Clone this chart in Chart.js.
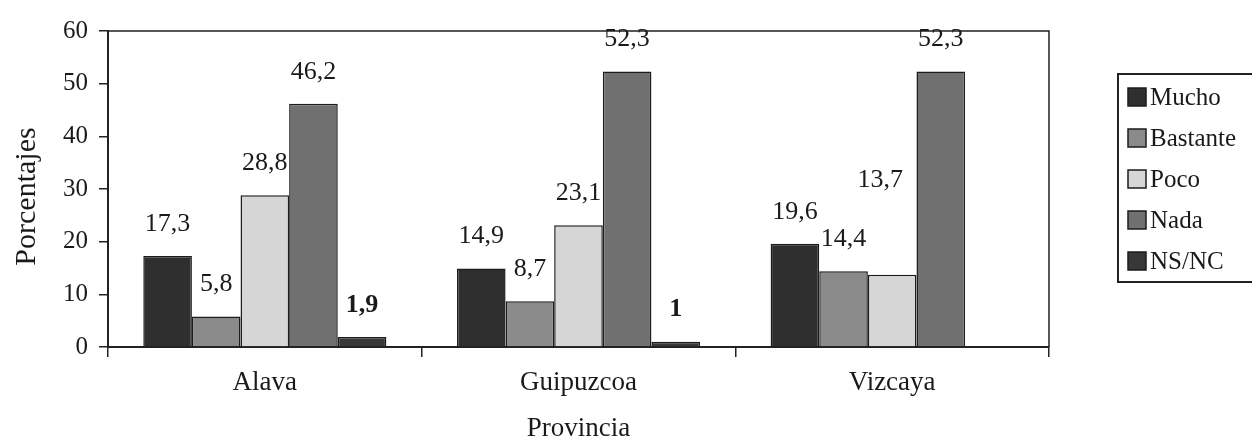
<!DOCTYPE html>
<html>
<head>
<meta charset="utf-8">
<script src="https://cdn.jsdelivr.net/npm/chart.js@4.4.1/dist/chart.umd.min.js"></script>
<style>
  html, body { margin: 0; padding: 0; background: #fff; }
  #wrap { width: 1252px; height: 440px; }
</style>
</head>
<body>
<div id="wrap"><canvas id="chart" width="1252" height="440"></canvas></div>
<script>
/* ---------- DATA ---------- */
const provincias = ["Alava", "Guipuzcoa", "Vizcaya"];
const seriesNames = ["Mucho", "Bastante", "Poco", "Nada", "NS/NC"];
const mucho = [17.3, 14.9, 19.6];
const bastante = [5.8, 8.7, 14.4];
const poco = [28.8, 23.1, 13.7];
const nada = [46.2, 52.3, 52.3];
const nsnc = [1.9, 1, null];
const yTicks = [0, 10, 20, 30, 40, 50, 60];

/* ---------- STYLE ---------- */
const FONT = "'Liberation Serif', 'DejaVu Serif', serif";
const barColors = ["#2f2f2f", "#8a8a8a", "#d6d6d6", "#707070", "#383838"];
const allSeries = [mucho, bastante, poco, nada, nsnc];

// label nudges (dataset-index, point-index) -> px
const labelNudge = { "2-2": { dx: -12, dy: -63 } };

const datasets = allSeries.map((values, i) => ({
  label: seriesNames[i],
  data: values,
  backgroundColor: barColors[i],
  borderColor: "#1c1c1c",
  borderWidth: 1.5,
  barPercentage: 1,
  categoryPercentage: 0.775,
}));

/* ---------- PLUGINS ---------- */
const frame = {
  id: "frame",
  beforeDatasetsDraw(chart) {
    const { ctx, chartArea: a } = chart;
    ctx.save();
    ctx.strokeStyle = "#222";
    ctx.lineWidth = 1.5;
    ctx.beginPath();
    ctx.moveTo(a.left, a.top);
    ctx.lineTo(a.right, a.top);
    ctx.lineTo(a.right, a.bottom);
    ctx.stroke();
    ctx.restore();
  },
};

const valueLabels = {
  id: "valueLabels",
  afterDatasetsDraw(chart) {
    const { ctx } = chart;
    ctx.save();
    ctx.fillStyle = "#1a1a1a";
    ctx.textAlign = "center";
    ctx.textBaseline = "middle";
    chart.data.datasets.forEach((ds, di) => {
      const meta = chart.getDatasetMeta(di);
      ctx.font = (di === 4 ? "bold " : "") + "26px " + FONT;
      meta.data.forEach((bar, pi) => {
        const v = ds.data[pi];
        if (v === null || v === undefined) return;
        const n = labelNudge[di + "-" + pi] || { dx: 0, dy: 0 };
        const txt = String(v).replace(".", ",");
        ctx.fillText(txt, bar.x + n.dx, bar.y - 32 + n.dy);
      });
    });
    ctx.restore();
  },
};

const boxLegend = {
  id: "boxLegend",
  afterDraw(chart) {
    const { ctx } = chart;
    const left = 1118, top = 74, rowH = 41;
    ctx.save();
    ctx.strokeStyle = "#222";
    ctx.lineWidth = 2;
    ctx.strokeRect(left, top, 150, 208);
    ctx.font = "25px " + FONT;
    ctx.textBaseline = "middle";
    ctx.textAlign = "left";
    chart.data.datasets.forEach((ds, i) => {
      const cy = top + 23 + i * rowH;
      ctx.fillStyle = ds.backgroundColor;
      ctx.fillRect(left + 10, cy - 9, 18, 18);
      ctx.strokeStyle = "#1c1c1c";
      ctx.lineWidth = 1.5;
      ctx.strokeRect(left + 10, cy - 9, 18, 18);
      ctx.fillStyle = "#1a1a1a";
      ctx.fillText(ds.label, left + 32, cy + 1);
    });
    ctx.restore();
  },
};

/* ---------- CHART ---------- */
new Chart(document.getElementById("chart"), {
  type: "bar",
  data: { labels: provincias, datasets },
  options: {
    responsive: false,
    animation: false,
    layout: { padding: { top: 31, right: 203, bottom: 0, left: 0 } },
    plugins: {
      legend: { display: false },
      tooltip: { enabled: false },
    },
    scales: {
      x: {
        grid: {
          offset: true,
          drawOnChartArea: false,
          color: "#222",
          lineWidth: 1.5,
          tickLength: 10,
        },
        border: { color: "#222", width: 2 },
        ticks: { color: "#1a1a1a", font: { family: FONT, size: 27 }, padding: 10 },
        title: {
          display: true,
          text: "Provincia",
          color: "#1a1a1a",
          font: { family: FONT, size: 27, lineHeight: 0.8 },
          padding: { top: 0, bottom: 0 },
        },
        afterFit(s) { s.height = 93; },
      },
      y: {
        min: 0,
        max: 60,
        afterBuildTicks(s) { s.ticks = yTicks.map((v) => ({ value: v })); },
        grid: {
          drawOnChartArea: false,
          color: "#222",
          lineWidth: 1.5,
          tickLength: 9,
        },
        border: { color: "#222", width: 2 },
        ticks: { color: "#1a1a1a", font: { family: FONT, size: 25 }, padding: 11 },
        title: {
          display: true,
          text: "Porcentajes\u00a0\u00a0",
          color: "#1a1a1a",
          font: { family: FONT, size: 30, lineHeight: 1 },
          padding: { top: 12, bottom: 0 },
        },
        afterFit(s) { s.width = 108; },
      },
    },
  },
  plugins: [frame, valueLabels, boxLegend],
});
</script>
</body>
</html>
